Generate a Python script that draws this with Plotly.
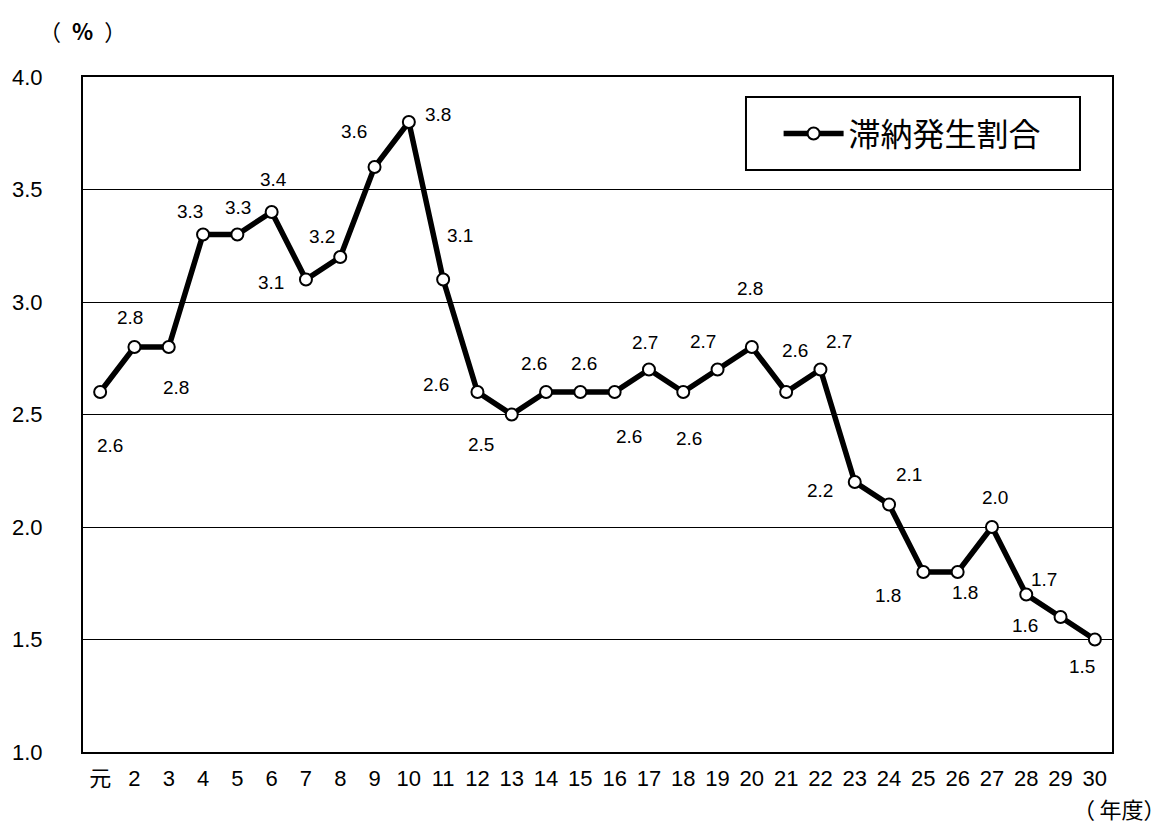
import plotly.graph_objects as go

years = ["元", "2", "3", "4", "5", "6", "7", "8", "9", "10", "11", "12", "13", "14", "15",
         "16", "17", "18", "19", "20", "21", "22", "23", "24", "25", "26", "27", "28", "29", "30"]
rates = [2.6, 2.8, 2.8, 3.3, 3.3, 3.4, 3.1, 3.2, 3.6, 3.8, 3.1, 2.6, 2.5, 2.6, 2.6,
         2.6, 2.7, 2.6, 2.7, 2.8, 2.6, 2.7, 2.2, 2.1, 1.8, 1.8, 2.0, 1.7, 1.6, 1.5]
series_name = "滞納発生割合"

# label offsets in pixels (dx right, dy down) relative to each point
label_offsets = [(10, 53), (-4, -30), (7, 40), (-13, -23), (1, -27), (2, -33), (-35, 3), (-18, -21),
                 (-21, -36), (29, -8), (17, -44), (-41, -8), (-31, 30), (-12, -29), (4, -29),
                 (14, 44), (-4, -27), (6, 46), (-15, -28), (-2, -59), (9, -42), (19, -28),
                 (-35, 8), (20, -30), (-35, 23), (7, 20), (3, -30), (18, -15), (-36, 8), (-13, 27)]

FONT = "Liberation Sans, Noto Sans CJK JP, sans-serif"
CJK = "Noto Sans CJK JP, sans-serif"

fig = go.Figure()
fig.add_trace(go.Scatter(
    x=list(range(len(years))), y=rates, mode="lines+markers", name=series_name,
    line=dict(color="black", width=5.5),
    marker=dict(symbol="circle", size=12, color="white", line=dict(color="black", width=2)),
    showlegend=True,
))

annotations = []
for i, (v, (dx, dy)) in enumerate(zip(rates, label_offsets)):
    annotations.append(dict(x=i, y=v, xref="x", yref="y", text=f"{v:.1f}", showarrow=False,
                            xshift=dx, yshift=-dy, font=dict(family=FONT, size=19, color="black")))

annotations.append(dict(x=0, y=1.0, xref="paper", yref="paper", text="（\u2002<b>%</b>\u2002）", showarrow=False,
                        xanchor="center", yanchor="middle", yshift=47, xshift=-1,
                        font=dict(family=CJK, size=22, color="black")))
annotations.append(dict(x=1.0, y=0, xref="paper", yref="paper", text="（\u2009年度）", showarrow=False,
                        xanchor="center", yanchor="middle", xshift=7, yshift=-56,
                        font=dict(family=CJK, size=22, color="black")))

fig.update_layout(
    width=1175, height=835,
    margin=dict(l=83, r=63, t=77, b=83),
    paper_bgcolor="white", plot_bgcolor="white",
    font=dict(family=FONT, color="black"),
    annotations=annotations,
    showlegend=True,
    legend=dict(x=0.676, y=0.916, xanchor="left", yanchor="middle", bgcolor="rgba(0,0,0,0)",
                borderwidth=0, itemwidth=60, font=dict(family=CJK, size=32, color="black")),
    shapes=[dict(type="rect", xref="paper", yref="paper", x0=0.6443, x1=0.9689, y0=0.8622, y1=0.9704,
                 line=dict(color="black", width=2), fillcolor="rgba(0,0,0,0)")],
)

fig.update_xaxes(
    range=[-0.5, len(years) - 0.5], tickmode="array", tickvals=list(range(len(years))), ticktext=years,
    showgrid=False, zeroline=False, showline=True, linecolor="black", linewidth=2, mirror=True,
    ticks="", tickfont=dict(family=FONT, size=22, color="black"), ticklabelstandoff=6,
)
fig.update_yaxes(
    range=[1.0, 4.0], tickmode="array", tickvals=[1.0, 1.5, 2.0, 2.5, 3.0, 3.5, 4.0],
    ticktext=["1.0", "1.5", "2.0", "2.5", "3.0", "3.5", "4.0"],
    showgrid=True, gridcolor="black", gridwidth=1, zeroline=False,
    showline=True, linecolor="black", linewidth=2, mirror=True,
    ticks="", tickfont=dict(family=FONT, size=22, color="black"), ticklabelstandoff=34,
)

fig.write_html("out.html")
